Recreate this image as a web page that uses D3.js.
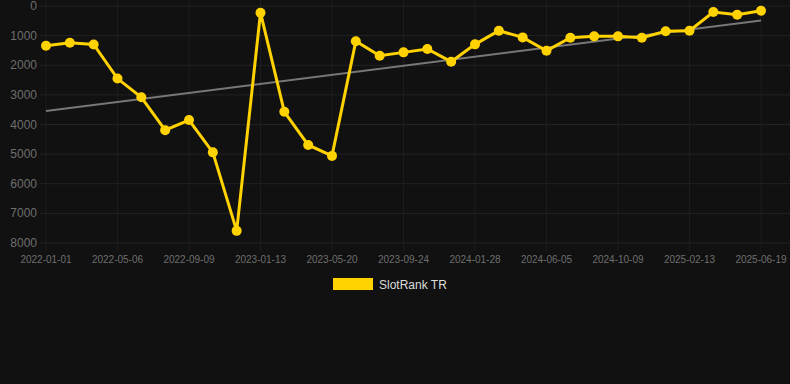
<!DOCTYPE html>
<html>
<head>
<meta charset="utf-8">
<script src="https://cdn.jsdelivr.net/npm/d3@7"></script>
<style>
  body { margin: 0; background: #111111; }
  svg { display: block; }
</style>
</head>
<body>
<svg></svg>
<script>
// Data
const dates = [
  "2022-01-01", "2022-02-12", "2022-03-25", "2022-05-06", "2022-06-17", "2022-07-28",
  "2022-09-09", "2022-10-21", "2022-12-02", "2023-01-13", "2023-02-24", "2023-04-07",
  "2023-05-20", "2023-07-01", "2023-08-12", "2023-09-24", "2023-11-05", "2023-12-17",
  "2024-01-28", "2024-03-10", "2024-04-23", "2024-06-05", "2024-07-17", "2024-08-28",
  "2024-10-09", "2024-11-20", "2025-01-01", "2025-02-13", "2025-03-27", "2025-05-08",
  "2025-06-19"
];
const ranks = [
  1340, 1240, 1300, 2450, 3080, 4190, 3850, 4940, 7590, 225,
  3570, 4690, 5060, 1190, 1680, 1565, 1450, 1880, 1295, 835,
  1060, 1510, 1070, 1025, 1025, 1070, 855, 835, 205, 295, 160
];
const tickLabels = [
  "2022-01-01", "2022-05-06", "2022-09-09", "2023-01-13", "2023-05-20", "2023-09-24",
  "2024-01-28", "2024-06-05", "2024-10-09", "2025-02-13", "2025-06-19"
];
const yTicks = [0, 1000, 2000, 3000, 4000, 5000, 6000, 7000, 8000];
const seriesName = "SlotRank TR";

const W = 790, H = 384;
const svg = d3.select("svg").attr("width", W).attr("height", H);

const x = d3.scalePoint().domain(dates).range([46, 761]);
const y = d3.scaleLinear().domain([0, 8000]).range([6, 243]);

// Grid
const grid = svg.append("g");
grid.selectAll(".hg").data(yTicks).enter().append("line")
  .attr("x1", 40).attr("x2", 790)
  .attr("y1", d => y(d)).attr("y2", d => y(d))
  .attr("stroke", "#232323").attr("stroke-width", 1);
grid.selectAll(".vg").data(tickLabels).enter().append("line")
  .attr("x1", d => x(d)).attr("x2", d => x(d))
  .attr("y1", 0).attr("y2", 251)
  .attr("stroke", "#1c1c1c").attr("stroke-width", 1);

// Y axis labels
svg.append("g").selectAll("text").data(yTicks).enter().append("text")
  .attr("x", 37).attr("y", d => y(d) + 4)
  .attr("text-anchor", "end")
  .attr("fill", "#6e6e6e")
  .style("font", "12px 'Liberation Sans', Arial, sans-serif")
  .text(d => d);

// X axis labels
svg.append("g").selectAll("text").data(tickLabels).enter().append("text")
  .attr("x", d => x(d)).attr("y", 263)
  .attr("text-anchor", "middle")
  .attr("fill", "#6e6e6e")
  .style("font", "10px 'Liberation Sans', Arial, sans-serif")
  .text(d => d);

// Trend line (least squares fit on the series)
const idx = ranks.map((_, i) => i);
const mx = d3.mean(idx), my = d3.mean(ranks);
const slope = d3.sum(idx, i => (i - mx) * (ranks[i] - my)) / d3.sum(idx, i => (i - mx) ** 2);
const icpt = my - slope * mx;
svg.append("line")
  .attr("x1", x(dates[0])).attr("y1", y(icpt))
  .attr("x2", x(dates[dates.length - 1])).attr("y2", y(icpt + slope * (dates.length - 1)))
  .attr("stroke", "#777777").attr("stroke-width", 2);

// Series line
const line = d3.line()
  .x((d, i) => x(dates[i]))
  .y(d => y(d));
svg.append("path")
  .datum(ranks)
  .attr("fill", "none")
  .attr("stroke", "#ffd200")
  .attr("stroke-width", 3)
  .attr("stroke-linejoin", "miter")
  .attr("d", line);

svg.append("g").selectAll("circle").data(ranks).enter().append("circle")
  .attr("cx", (d, i) => x(dates[i]))
  .attr("cy", d => y(d))
  .attr("r", 5)
  .attr("fill", "#ffd200");

// Legend
const legend = svg.append("g");
legend.append("rect")
  .attr("x", 333).attr("y", 278).attr("width", 40).attr("height", 12)
  .attr("fill", "#ffd200");
legend.append("text")
  .attr("x", 379).attr("y", 289)
  .attr("fill", "#dddddd")
  .style("font", "12px 'Liberation Sans', Arial, sans-serif")
  .text(seriesName);
</script>
</body>
</html>
